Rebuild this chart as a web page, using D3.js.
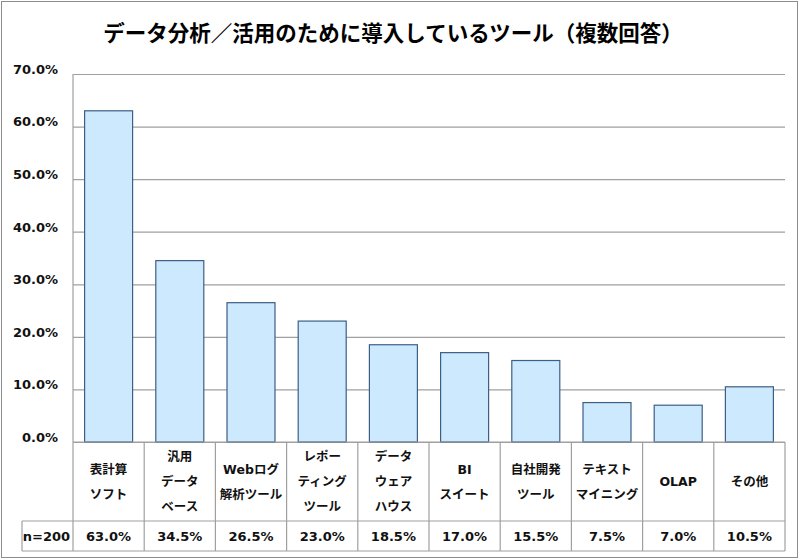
<!DOCTYPE html>
<html lang="ja">
<head>
<meta charset="UTF-8">
<title>データ分析／活用のために導入しているツール</title>
<script src="https://cdn.jsdelivr.net/npm/d3@7"></script>
<style>
  body { margin: 0; background: #fff; }
  text { font-family: "DejaVu Sans", "Noto Sans CJK JP", sans-serif; }
</style>
</head>
<body>
<svg></svg>
<script>
var categories = [
    ["表計算", "ソフト"],
    ["汎用", "データ", "ベース"],
    ["Webログ", "解析ツール"],
    ["レポー", "ティング", "ツール"],
    ["データ", "ウェア", "ハウス"],
    ["BI", "スイート"],
    ["自社開発", "ツール"],
    ["テキスト", "マイニング"],
    ["OLAP"],
    ["その他"]
];
var values = [63.0, 34.5, 26.5, 23.0, 18.5, 17.0, 15.5, 7.5, 7.0, 10.5];
var yTicks = [0, 10, 20, 30, 40, 50, 60, 70];
var sampleLabel = "n=200";
var title = "データ分析／活用のために導入しているツール（複数回答）";

var width = 800, height = 560;
var plotLeft = 73, plotRight = 785, plotTop = 74, plotBottom = 442;
var rowSplit = 521, tableBottom = 551, tableLeft = 22;
var grey = "#a0a0a0";

var svg = d3.select("svg").attr("width", width).attr("height", height);

// outer frame
svg.append("rect")
    .attr("x", 1.5).attr("y", 1.5)
    .attr("width", 796).attr("height", 556)
    .attr("fill", "none").attr("stroke", "#8c8c8c");

svg.append("text")
    .attr("x", 393).attr("y", 31)
    .attr("text-anchor", "middle")
    .attr("dominant-baseline", "central")
    .style("font-family", "'Noto Sans CJK JP', sans-serif")
    .style("font-size", "21.5px")
    .style("font-weight", "bold")
    .text(title);

var x = d3.scaleBand()
    .domain(d3.range(categories.length))
    .range([plotLeft, plotRight])
    .padding(0);

var y = d3.scaleLinear()
    .domain([0, 70])
    .range([plotBottom, plotTop]);

// gridlines + tick labels
var yAxis = d3.axisLeft(y)
    .tickValues(yTicks)
    .tickSize(-(plotRight - plotLeft))
    .tickPadding(15)
    .tickFormat(function (d) { return d.toFixed(1) + "%"; });

var gy = svg.append("g")
    .attr("transform", "translate(" + plotLeft + ",0)")
    .call(yAxis);
gy.select(".domain").remove();
gy.selectAll(".tick line").attr("stroke", grey).attr("stroke-width", 1.2);
gy.selectAll(".tick text")
    .attr("dy", "-0.05em")
    .style("font-size", "13px")
    .style("font-weight", "bold")
    .attr("fill", "#111");

// left axis line
svg.append("line")
    .attr("x1", plotLeft).attr("x2", plotLeft)
    .attr("y1", plotTop).attr("y2", tableBottom)
    .attr("stroke", grey).attr("stroke-width", 1.2);

// bars
var barW = 48;
svg.selectAll("rect.bar")
    .data(values)
    .enter()
    .append("rect")
    .attr("class", "bar")
    .attr("x", function (d, i) { return x(i) + (x.bandwidth() - barW) / 2; })
    .attr("y", function (d) { return y(d); })
    .attr("width", barW)
    .attr("height", function (d) { return y(0) - y(d); })
    .attr("fill", "#cce9fd")
    .attr("stroke", "#3d5e86")
    .attr("stroke-width", 1.2);

// data table lines
var table = svg.append("g").attr("stroke", grey).attr("stroke-width", 1.2);
table.append("line").attr("x1", plotLeft).attr("x2", plotRight).attr("y1", plotBottom).attr("y2", plotBottom);
table.append("line").attr("x1", tableLeft).attr("x2", plotRight).attr("y1", rowSplit).attr("y2", rowSplit);
table.append("line").attr("x1", tableLeft).attr("x2", plotRight).attr("y1", tableBottom).attr("y2", tableBottom);
table.append("line").attr("x1", tableLeft).attr("x2", tableLeft).attr("y1", rowSplit).attr("y2", tableBottom);
table.selectAll("line.col")
    .data(d3.range(1, categories.length + 1))
    .enter()
    .append("line")
    .attr("class", "col")
    .attr("x1", function (i) { return i < categories.length ? x(i) : plotRight; })
    .attr("x2", function (i) { return i < categories.length ? x(i) : plotRight; })
    .attr("y1", plotBottom).attr("y2", tableBottom);

// category labels
var lineGap = 25;
var labelMid = (plotBottom + rowSplit) / 2;
var cat = svg.selectAll("text.cat")
    .data(categories)
    .enter()
    .append("text")
    .attr("class", "cat")
    .attr("text-anchor", "middle")
    .style("font-size", "12.5px")
    .style("font-weight", "bold")
    .attr("fill", "#111");
cat.each(function (lines, i) {
    var t = d3.select(this);
    var start = labelMid - (lines.length - 1) * lineGap / 2;
    lines.forEach(function (s, k) {
        t.append("tspan")
            .attr("x", x(i) + x.bandwidth() / 2)
            .attr("y", start + k * lineGap)
            .attr("dominant-baseline", "central")
            .text(s);
    });
});

// value row
var valMid = (rowSplit + tableBottom) / 2;
svg.append("text")
    .attr("x", (tableLeft + plotLeft) / 2 - 1)
    .attr("y", valMid)
    .attr("text-anchor", "middle")
    .attr("dominant-baseline", "central")
    .style("font-size", "13px")
    .style("font-weight", "bold")
    .attr("fill", "#111")
    .text(sampleLabel);

svg.selectAll("text.val")
    .data(values)
    .enter()
    .append("text")
    .attr("class", "val")
    .attr("x", function (d, i) { return x(i) + x.bandwidth() / 2; })
    .attr("y", valMid)
    .attr("text-anchor", "middle")
    .attr("dominant-baseline", "central")
    .style("font-size", "13px")
    .style("font-weight", "bold")
    .attr("fill", "#111")
    .text(function (d) { return d.toFixed(1) + "%"; });
</script>
</body>
</html>
